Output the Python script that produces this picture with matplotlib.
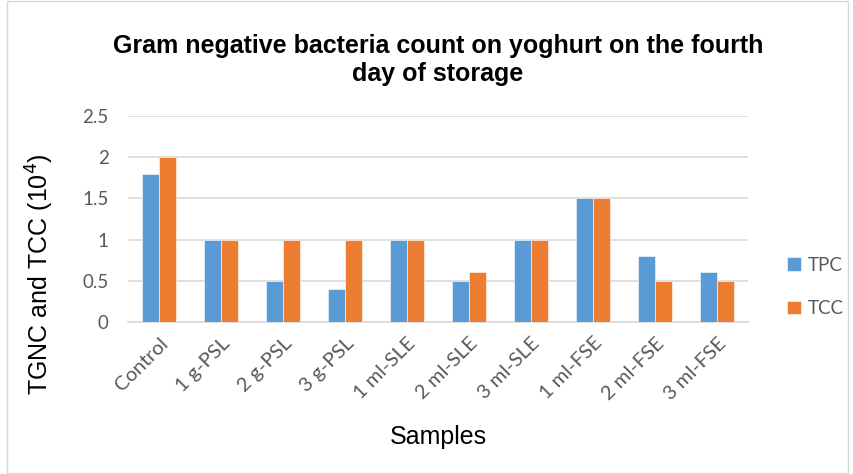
import matplotlib.pyplot as plt
import numpy as np
from matplotlib.patches import Rectangle

samples = ["Control", "1 g-PSL", "2 g-PSL", "3 g-PSL", "1 ml-SLE",
           "2 ml-SLE", "3 ml-SLE", "1 ml-FSE", "2 ml-FSE", "3 ml-FSE"]
tpc = [1.8, 1.0, 0.5, 0.4, 1.0, 0.5, 1.0, 1.5, 0.8, 0.6]
tcc = [2.0, 1.0, 1.0, 1.0, 1.0, 0.6, 1.0, 1.5, 0.5, 0.5]

plt.rcParams['font.family'] = ['Liberation Sans', 'DejaVu Sans']
light = ['Lato', 'DejaVu Sans']

fig = plt.figure(figsize=(8.54, 4.74), dpi=100)
ax = fig.add_axes([0.150, 0.321, 0.726, 0.434])

x = np.arange(len(samples))
w = 0.28
ax.bar(x - w / 2, tpc, w, color="#5B9BD5", label="TPC", edgecolor="white", linewidth=0.4, zorder=3)
ax.bar(x + w / 2, tcc, w, color="#ED7D31", label="TCC", edgecolor="white", linewidth=0.4, zorder=3)

ax.set_xlim(-0.5, len(samples) - 0.5)
ax.set_ylim(0, 2.5)
ax.set_yticks([0, 0.5, 1, 1.5, 2, 2.5])
ax.set_yticklabels(["0", "0.5", "1", "1.5", "2", "2.5"], family=light, fontsize=13.5)
ax.yaxis.grid(True, color="#D9D9D9", linewidth=1.2, zorder=0)
for s in ["top", "right", "left"]:
    ax.spines[s].set_visible(False)
ax.spines["bottom"].set_color("#D9D9D9")
ax.spines["bottom"].set_linewidth(1.2)
ax.tick_params(axis="both", length=0, colors="#595959")
ax.tick_params(axis="y", pad=14)
ax.set_xticks(x)
ax.set_xticklabels(samples, rotation=45, ha="right", rotation_mode="anchor",
                   color="#595959", fontsize=14.5, family=light)
ax.tick_params(axis="x", pad=9)

ax.set_xlabel("Samples", fontsize=18)
ax.xaxis.set_label_coords(0.5, -0.5)
ax.set_ylabel("TGNC and TCC (10$^4$)", fontsize=18)
ax.yaxis.set_label_coords(-0.117, 0.23)
ax.set_title("Gram negative bacteria count on yoghurt on the fourth\nday of storage",
             fontsize=18, fontweight="bold", pad=25, linespacing=1.22)

ax.legend(loc="center left", bbox_to_anchor=(1.035, 0.17), frameon=False,
          prop={'family': light, 'size': 13.5}, labelcolor="#595959",
          handlelength=0.75, handleheight=0.75, labelspacing=1.4, handletextpad=0.35)

fig.patches.append(Rectangle((0.008, 0.003), 0.985, 0.994, transform=fig.transFigure,
                             fill=False, edgecolor="#D9D9D9", linewidth=1))

fig.savefig("out.png", dpi=100)
